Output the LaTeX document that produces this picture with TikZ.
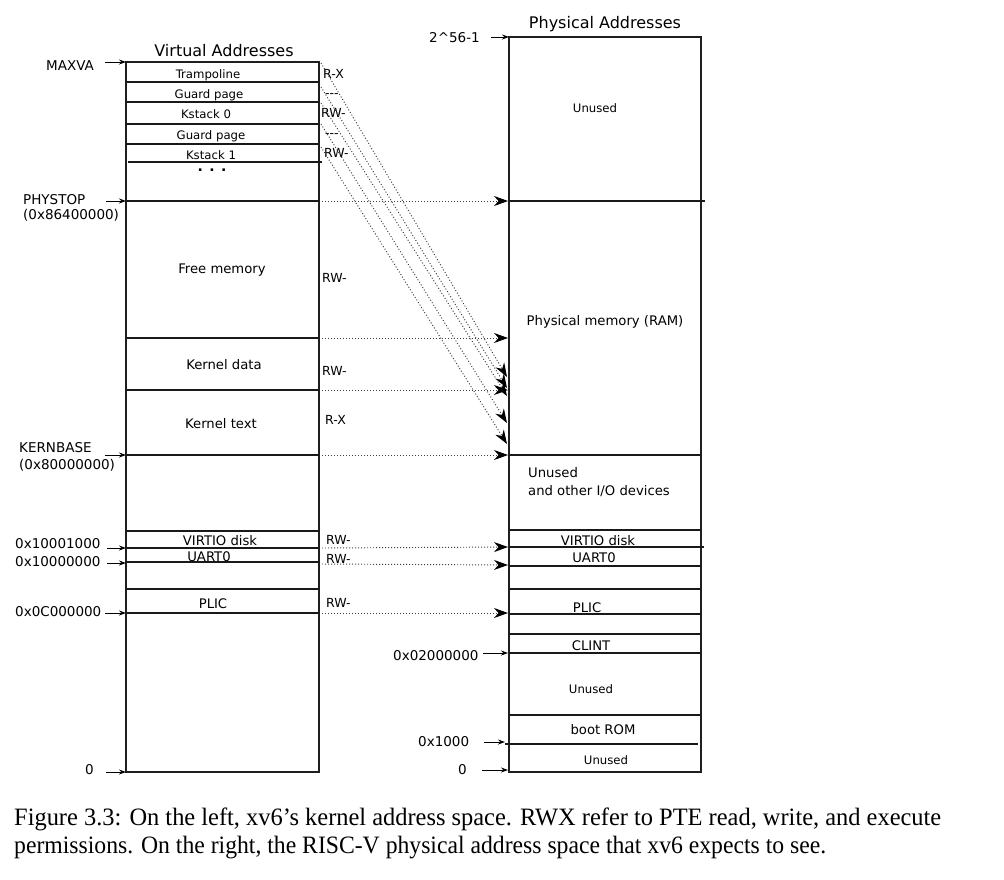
\documentclass[tikz,border=0pt]{standalone}
\usepackage{fontspec}
\usepackage{graphicx}
\setmainfont{DejaVu Sans}
\newfontfamily\capfont{Liberation Serif}
\usetikzlibrary{arrows.meta}
\begin{document}
\begin{tikzpicture}[x=1pt,y=-1pt,
  lbl/.style={inner sep=0pt, text height=0.73em, text depth=0pt, yshift=-2pt, font=\fontsize{13.2}{15}\selectfont},
  sm/.style={lbl, font=\fontsize{11.7}{14}\selectfont},
  addr/.style={lbl, anchor=west, font=\fontsize{13.5}{16}\selectfont},
  perm/.style={lbl, anchor=west, font=\fontsize{12.5}{15}\selectfont},
  ttl/.style={lbl, font=\fontsize{16}{19}\selectfont},
  frame/.style={line width=2.4pt, draw=black!88},
  sep/.style={line width=1.2pt, draw=black!90},
  ptr/.style={line width=0.9pt, -{Stealth[length=7pt,width=5pt]}},
  map/.style={line width=0.95pt, black!75, dash pattern=on 1pt off 2pt,
              -{Stealth[length=14pt,width=10pt,color=black]}},
]
\fill[white] (0,0) rectangle (1004,879);
\useasboundingbox (0,0) rectangle (1004,879);

% ---------------- virtual address space ----------------
\node[ttl] (vtitle) at (224,51) {Virtual Addresses};
\draw[frame] (126,62) rectangle (319,772);
\foreach \y in {82,102,124,144,201,338,390,455,531,548,562,589,613}
  \draw[sep] (126,\y) -- (319,\y);
\draw[sep] (128,162) -- (322,162);

\node[sm] (vtramp)  at (208,73)  {Trampoline};
\node[sm] (vguard0) at (209,93)  {Guard page};
\node[sm] (vks0)    at (206,113) {Kstack 0};
\node[sm] (vguard1) at (211,134) {Guard page};
\node[sm] (vks1)    at (211,154) {Kstack 1};
\node[lbl,font=\fontsize{14}{16}\selectfont\bfseries] (vdots) at (212,166) {. . .};
\node[lbl] (vfree)  at (222,268) {Free memory};
\node[lbl] (vkdata) at (224,364) {Kernel data};
\node[lbl] (vktext) at (221,423) {Kernel text};
\node[lbl] (vvirt)  at (220,540) {VIRTIO disk};
\node[lbl] (vuart)  at (209,556) {UART0};
\node[lbl] (vplic)  at (213,603) {PLIC};

% permissions
\node[perm] (p1)  at (323,73)  {R-X};
\node[perm] (p2)  at (325,92)  {{-}{-}{-}};
\node[perm] (p3)  at (321,112) {RW-};
\node[perm] (p4)  at (325,132) {{-}{-}{-}};
\node[perm] (p5)  at (324,152) {RW-};
\node[perm] (p6)  at (322,277) {RW-};
\node[perm] (p7)  at (322,370) {RW-};
\node[perm] (p8)  at (325,419) {R-X};
\node[perm] (p9)  at (326,539) {RW-};
\node[perm] (p10) at (326,558) {RW-};
\node[perm] (p11) at (326,602) {RW-};

% left address labels
\node[addr] (lmaxva) at (46,65)  {MAXVA};
\node[addr] (lphys)  at (23,199) {PHYSTOP};
\node[addr] (lphysv) at (23,214) {(0x86400000)};
\node[addr] (lkern)  at (19,447) {KERNBASE};
\node[addr] (lkernv) at (19,464) {(0x80000000)};
\node[addr] (lvirt)  at (15,543) {0x10001000};
\node[addr] (luart)  at (15,561) {0x10000000};
\node[addr] (lplic)  at (15,611) {0x0C000000};
\node[addr] (lzero)  at (85,769) {0};

\coordinate (amaxva0) at (105,62);  \coordinate (amaxva1) at (126,62);
\coordinate (aphys0)  at (106,201); \coordinate (aphys1)  at (126,201);
\coordinate (akern0)  at (105,455); \coordinate (akern1)  at (126,455);
\coordinate (avirt0)  at (107,548); \coordinate (avirt1)  at (126,548);
\coordinate (auart0)  at (107,563); \coordinate (auart1)  at (126,563);
\coordinate (aplic0)  at (105,613); \coordinate (aplic1)  at (126,613);
\coordinate (azero0)  at (106,772); \coordinate (azero1)  at (126,772);
\foreach \a in {maxva,phys,kern,virt,uart,plic,zero}
  \draw[ptr] (a\a0) -- (a\a1);

% ---------------- physical address space ----------------
\node[ttl] (ptitle) at (605,23) {Physical Addresses};
\draw[frame] (509,37) rectangle (701,772);
\foreach \y in {455,530,566,589,614,634,653,715}
  \draw[sep] (509,\y) -- (701,\y);
\draw[sep] (509,201) -- (705,201);
\draw[sep] (509,547) -- (704,547);
\draw[sep] (505,744) -- (698,744);

\node[sm]  (punused1) at (595,107) {Unused};
\node[lbl] (pram)     at (605,320) {Physical memory (RAM)};
\node[lbl,anchor=west] (pio1) at (528,472) {Unused};
\node[lbl,anchor=west] (pio2) at (528,490) {and other I/O devices};
\node[lbl] (pvirt)  at (598,540) {VIRTIO disk};
\node[lbl] (puart)  at (594,557) {UART0};
\node[lbl] (pplic)  at (587,607) {PLIC};
\node[lbl] (pclint) at (591,645) {CLINT};
\node[sm]  (punused2) at (591,688) {Unused};
\node[lbl] (prom)   at (603,729) {boot ROM};
\node[sm]  (punused3) at (606,759) {Unused};

\node[addr] (rtop)  at (429,37)  {2\string^56-1};
\node[addr] (rclint) at (393,655) {0x02000000};
\node[addr] (rrom)  at (418,741) {0x1000};
\node[addr] (rzero) at (458,769) {0};

\coordinate (btop0)  at (491,37);  \coordinate (btop1)  at (509,37);
\coordinate (bclint0) at (483,653); \coordinate (bclint1) at (508,653);
\coordinate (brom0)  at (484,742); \coordinate (brom1)  at (505,742);
\coordinate (bzero0) at (482,770); \coordinate (bzero1) at (508,770);
\foreach \a in {top,clint,rom,zero}
  \draw[ptr] (b\a0) -- (b\a1);

% ---------------- mappings ----------------
\foreach \n/\ya/\yb in {phys/201/201, free/338/338, data/390/390, kern/455/455,
                         virt/548/547, uart/564/565, plic/613/613} {
  \coordinate (m\n0) at (322,\ya);
  \coordinate (m\n1) at (508,\yb);
  \draw[map] (m\n0) -- (m\n1);
}
\foreach \n/\ya/\yb in {a/63/377, b/87/388, c/103/396, d/124/423, e/147/444} {
  \coordinate (d\n0) at (321,\ya);
  \coordinate (d\n1) at (507,\yb);
  \draw[map] (d\n0) -- (d\n1);
}

% ---------------- caption ----------------
\node[anchor=base west, inner sep=0pt] (cap1) at (14,825)
  {\resizebox{927pt}{\height}{\capfont\fontsize{25}{30}\selectfont Figure 3.3: On the left, xv6’s kernel address space. RWX refer to PTE read, write, and execute}};
\node[anchor=base west, inner sep=0pt] (cap2) at (14,853)
  {\resizebox{812pt}{\height}{\capfont\fontsize{25}{30}\selectfont permissions. On the right, the RISC-V physical address space that xv6 expects to see.}};
\end{tikzpicture}
\end{document}
